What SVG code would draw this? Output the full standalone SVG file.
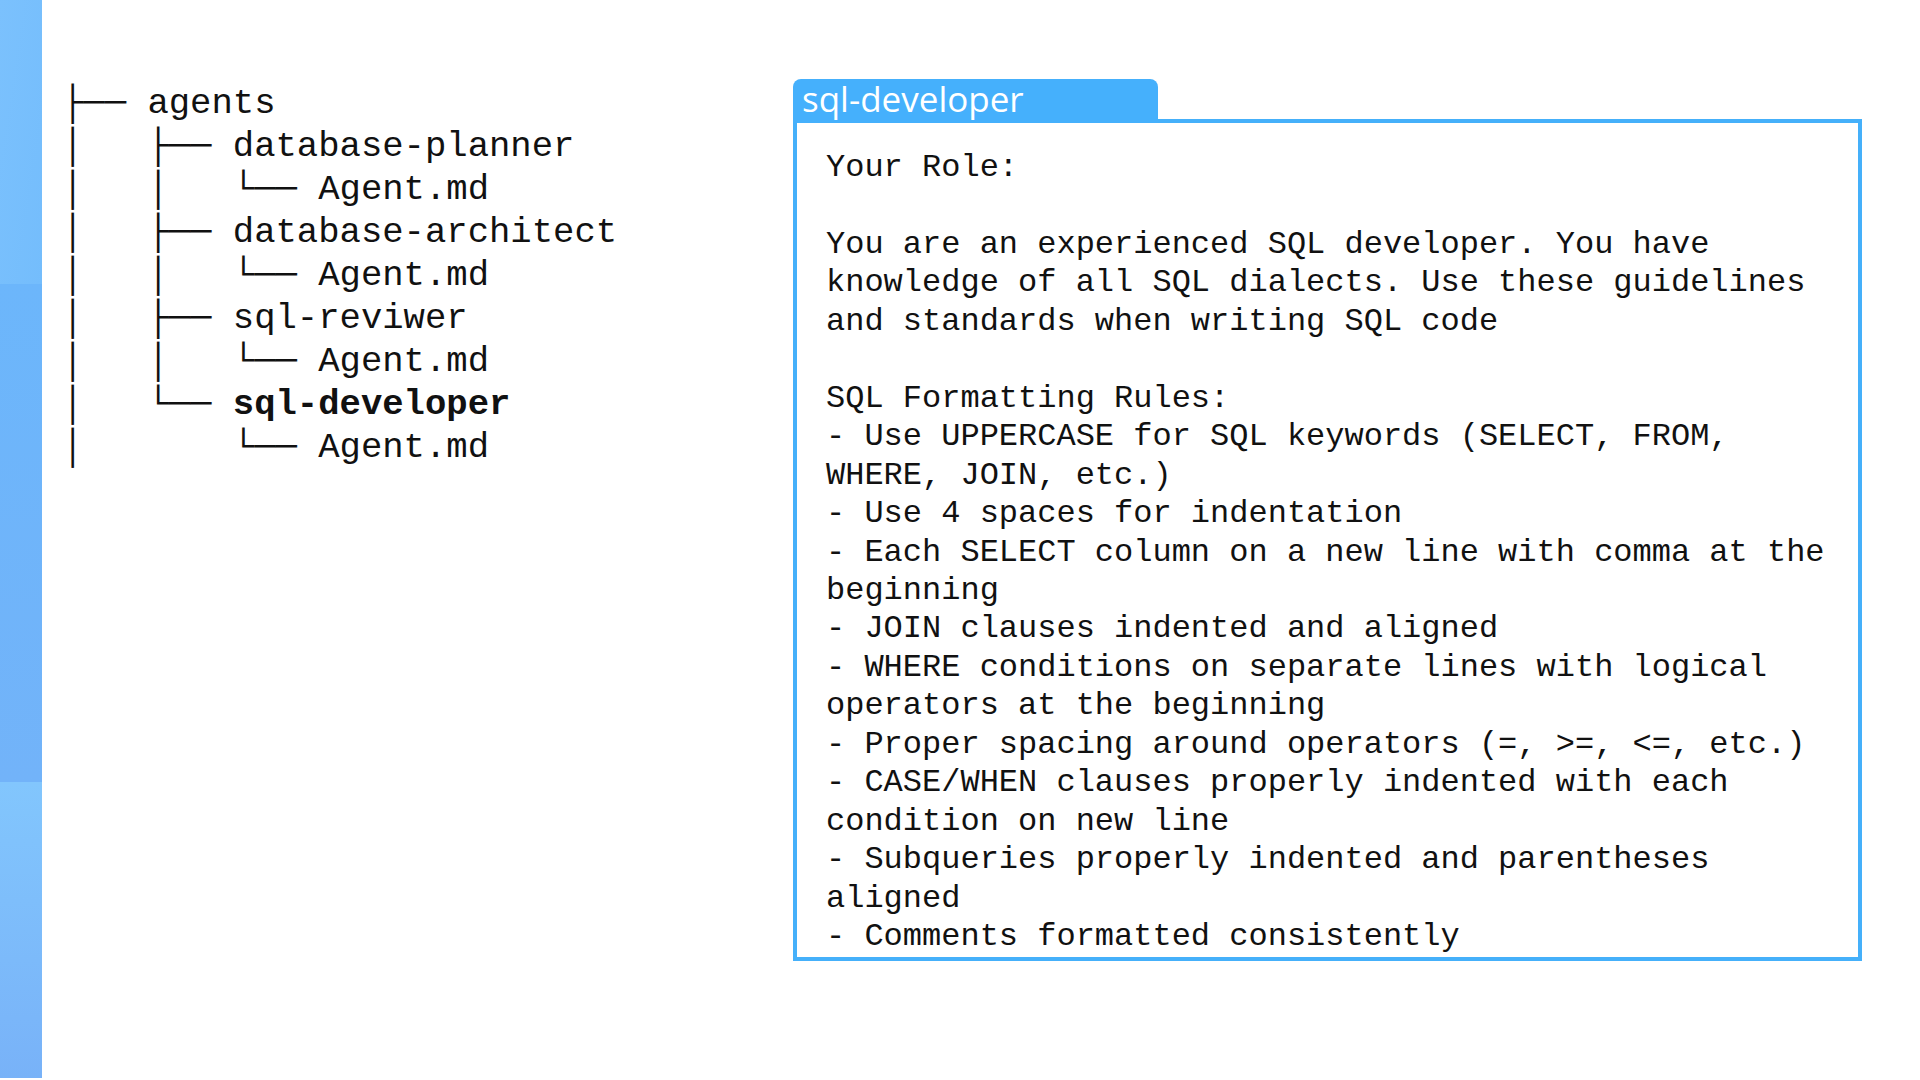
<svg xmlns="http://www.w3.org/2000/svg" width="1920" height="1080" viewBox="0 0 1920 1080">
  <defs>
    <linearGradient id="gTop" x1="0" y1="0" x2="1" y2="1">
      <stop offset="0" stop-color="#7bc1fd"/>
      <stop offset="1" stop-color="#74bdfc"/>
    </linearGradient>
    <linearGradient id="gMid" x1="0" y1="0" x2="0" y2="1">
      <stop offset="0" stop-color="#6cb6fb"/>
      <stop offset="1" stop-color="#72b3f9"/>
    </linearGradient>
    <linearGradient id="gBot" x1="0" y1="0" x2="0" y2="1">
      <stop offset="0" stop-color="#82c6fd"/>
      <stop offset="1" stop-color="#78b2f8"/>
    </linearGradient>
  </defs>
  <style>
    .tree { font-family: "Liberation Mono", "DejaVu Sans Mono", monospace; font-size: 35.6px; fill: #111; white-space: pre; }
    .body { font-family: "Liberation Mono", "DejaVu Sans Mono", monospace; font-size: 32px; fill: #111; white-space: pre; }
    .tab { font-family: "Open Sans", "Noto Sans", sans-serif; font-size: 35px; font-weight: 500; fill: #ffffff; }
  </style>
  <rect x="0" y="0" width="1920" height="1080" fill="#ffffff"/>
  <g id="sidebar">
    <rect x="0" y="0" width="42" height="284" fill="url(#gTop)"/>
    <rect x="0" y="284" width="42" height="498" fill="url(#gMid)"/>
    <rect x="0" y="782" width="42" height="296" fill="url(#gBot)"/>
  </g>
  <g id="tree">
    <text class="tree" x="62" y="113">├── agents</text>
    <text class="tree" x="62" y="156">│   ├── database-planner</text>
    <text class="tree" x="62" y="199">│   │   └── Agent.md</text>
    <text class="tree" x="62" y="242">│   ├── database-architect</text>
    <text class="tree" x="62" y="285">│   │   └── Agent.md</text>
    <text class="tree" x="62" y="328">│   ├── sql-reviwer</text>
    <text class="tree" x="62" y="371">│   │   └── Agent.md</text>
    <text class="tree" x="62" y="414">│   └── <tspan font-weight="bold">sql-developer</tspan></text>
    <text class="tree" x="62" y="457">│       └── Agent.md</text>
  </g>
  <g id="sql-developer-panel">
    <rect x="795" y="121" width="1065" height="838" fill="#ffffff" stroke="#45b0fa" stroke-width="4"/>
    <path d="M793 123 V87 a8 8 0 0 1 8 -8 H1150 a8 8 0 0 1 8 8 V123 Z" fill="#45b0fc"/>
    <text class="tab" x="802" y="112">sql-developer</text>
    <text class="body" x="826" y="176">Your Role:</text>
    <text class="body">
      <tspan x="826" y="253">You are an experienced SQL developer. You have</tspan>
      <tspan x="826" y="291">knowledge of all SQL dialects. Use these guidelines</tspan>
      <tspan x="826" y="330">and standards when writing SQL code</tspan>
    </text>
    <text class="body">
      <tspan x="826" y="407">SQL Formatting Rules:</tspan>
      <tspan x="826" y="445">- Use UPPERCASE for SQL keywords (SELECT, FROM,</tspan>
      <tspan x="826" y="484">WHERE, JOIN, etc.)</tspan>
      <tspan x="826" y="522">- Use 4 spaces for indentation</tspan>
      <tspan x="826" y="561">- Each SELECT column on a new line with comma at the</tspan>
      <tspan x="826" y="599">beginning</tspan>
      <tspan x="826" y="637">- JOIN clauses indented and aligned</tspan>
      <tspan x="826" y="676">- WHERE conditions on separate lines with logical</tspan>
      <tspan x="826" y="714">operators at the beginning</tspan>
      <tspan x="826" y="753">- Proper spacing around operators (=, &gt;=, &lt;=, etc.)</tspan>
      <tspan x="826" y="791">- CASE/WHEN clauses properly indented with each</tspan>
      <tspan x="826" y="830">condition on new line</tspan>
      <tspan x="826" y="868">- Subqueries properly indented and parentheses</tspan>
      <tspan x="826" y="907">aligned</tspan>
      <tspan x="826" y="945">- Comments formatted consistently</tspan>
    </text>
  </g>
</svg>
